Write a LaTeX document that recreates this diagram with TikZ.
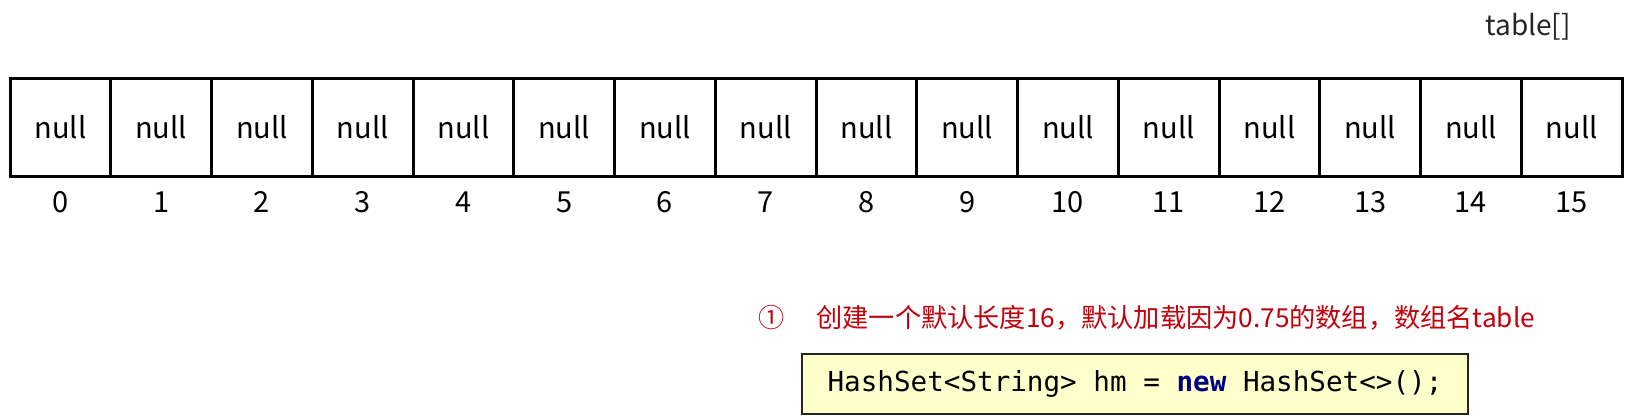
\documentclass[tikz,border=0pt]{standalone}
\usepackage{fontspec}
\setmainfont{Noto Sans CJK SC}
\setmonofont{DejaVu Sans Mono}
\usepackage{xcolor}
\usetikzlibrary{positioning}

\definecolor{notered}{HTML}{C0000A}
\definecolor{codebg}{HTML}{FFFFCC}
\definecolor{keyword}{HTML}{000080}

\begin{document}
\begin{tikzpicture}[x=0.5pt, y=-0.5pt]
    \useasboundingbox (0,0) rectangle (1639,418);
    \tikzstyle{slot} = [draw=black, line width=1.5pt, outer sep=0pt, inner sep=0pt,
        minimum width=50.375pt, minimum height=49pt, font=\fontsize{14.5}{16}\selectfont];
    \tikzstyle{index} = [inner sep=0pt, font=\fontsize{14.5}{16}\selectfont];
    \node [slot] (s0) at (60.4,127) {null};
    \node [slot, right = 0pt of s0] (s1) {null};
    \node [slot, right = 0pt of s1] (s2) {null};
    \node [slot, right = 0pt of s2] (s3) {null};
    \node [slot, right = 0pt of s3] (s4) {null};
    \node [slot, right = 0pt of s4] (s5) {null};
    \node [slot, right = 0pt of s5] (s6) {null};
    \node [slot, right = 0pt of s6] (s7) {null};
    \node [slot, right = 0pt of s7] (s8) {null};
    \node [slot, right = 0pt of s8] (s9) {null};
    \node [slot, right = 0pt of s9] (s10) {null};
    \node [slot, right = 0pt of s10] (s11) {null};
    \node [slot, right = 0pt of s11] (s12) {null};
    \node [slot, right = 0pt of s12] (s13) {null};
    \node [slot, right = 0pt of s13] (s14) {null};
    \node [slot, right = 0pt of s14] (s15) {null};
    \node [index, below = 7.5pt of s0] (i0) {0};
    \node [index, below = 7.5pt of s1] (i1) {1};
    \node [index, below = 7.5pt of s2] (i2) {2};
    \node [index, below = 7.5pt of s3] (i3) {3};
    \node [index, below = 7.5pt of s4] (i4) {4};
    \node [index, below = 7.5pt of s5] (i5) {5};
    \node [index, below = 7.5pt of s6] (i6) {6};
    \node [index, below = 7.5pt of s7] (i7) {7};
    \node [index, below = 7.5pt of s8] (i8) {8};
    \node [index, below = 7.5pt of s9] (i9) {9};
    \node [index, below = 7.5pt of s10] (i10) {10};
    \node [index, below = 7.5pt of s11] (i11) {11};
    \node [index, below = 7.5pt of s12] (i12) {12};
    \node [index, below = 7.5pt of s13] (i13) {13};
    \node [index, below = 7.5pt of s14] (i14) {14};
    \node [index, below = 7.5pt of s15] (i15) {15};
    \node [font=\fontsize{14}{16}\selectfont, text=black!85] (tablename) at (1528,27) {table[]};
    % step note and code line
    \node [font=\fontsize{13.1}{15}\selectfont, text=notered] (note) at (1147,318)
        {①\hspace{1.2em}创建一个默认长度16，默认加载因为0.75的数组，数组名table};
    \node [draw=black!85, line width=0.6pt, fill=codebg, minimum width=333pt, minimum height=30pt,
        font=\ttfamily\fontsize{13.8}{15}\selectfont] (code) at (1135,384)
        {HashSet<String> hm = {\bfseries\color{keyword}new} HashSet<>();};
\end{tikzpicture}
\end{document}
